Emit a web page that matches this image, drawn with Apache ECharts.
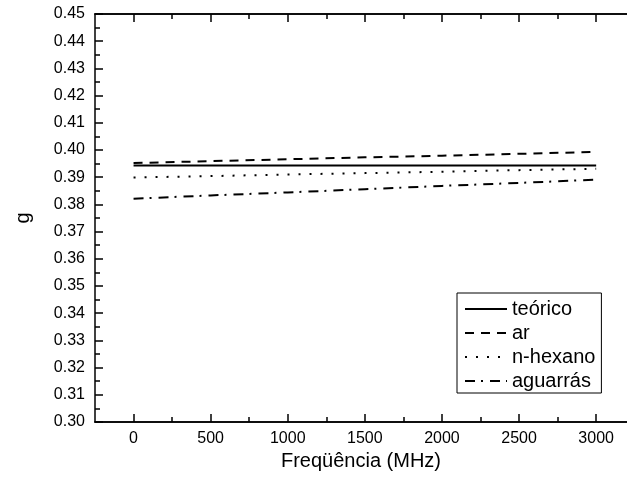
<!DOCTYPE html>
<html>
<head>
<meta charset="utf-8">
<script src="https://cdn.jsdelivr.net/npm/echarts@6/dist/echarts.min.js"></script>
<style>html,body{margin:0;padding:0;background:#fff}#c{width:627px;height:481px}</style>
</head>
<body>
<div id="c"></div>
<script>
var freq = [0, 500, 1000, 1500, 2000, 2500, 3000];
var teorico = [0.3943, 0.3943, 0.3943, 0.3943, 0.3943, 0.3943, 0.3943];
var ar = [0.3952, 0.3959, 0.3966, 0.3973, 0.3979, 0.3986, 0.3993];
var nhexano = [0.3899, 0.3904, 0.3910, 0.3915, 0.3920, 0.3926, 0.3931];
var aguarras = [0.3821, 0.3833, 0.3844, 0.3856, 0.3868, 0.3879, 0.3891];
var seriesNames = ['teórico', 'ar', 'n-hexano', 'aguarrás'];
var xMajor = [0, 500, 1000, 1500, 2000, 2500, 3000];
var xMinor = [250, 750, 1250, 1750, 2250, 2750];

function pairs(vals) { return freq.map(function (f, i) { return [f, vals[i]]; }); }

var FONT = '"Liberation Sans", Arial, sans-serif';
var chart = echarts.init(document.getElementById('c'), null, {renderer: 'canvas'});

function xAxisDef(pos, ticks, len, labels) {
  return {
    type: 'value', position: pos, min: -250, max: 3200,
    axisLine: {show: true, onZero: false, lineStyle: {color: '#000', width: 1.5}},
    axisTick: {show: true, inside: true, length: len, customValues: ticks, lineStyle: {color: '#000', width: 1.5}},
    axisLabel: labels ? {show: true, customValues: xMajor, color: '#000', fontSize: 16, fontFamily: FONT, margin: 9,
      formatter: function (v) { return String(v); }} : {show: false},
    splitLine: {show: false}
  };
}

var xAxes = [xAxisDef('bottom', xMajor, 8, true), xAxisDef('bottom', xMinor, 5, false),
             xAxisDef('top', xMajor, 8, false), xAxisDef('top', xMinor, 5, false)];
xAxes[0].name = 'Freqüência (MHz)';
xAxes[0].nameLocation = 'middle';
xAxes[0].nameGap = 27;
xAxes[0].nameTextStyle = {color: '#000', fontSize: 20, fontFamily: FONT};

function yAxisDef(pos, labels) {
  return {
    type: 'value', position: pos, min: 0.30, max: 0.45, interval: 0.01,
    axisLine: {show: labels, onZero: false, lineStyle: {color: '#000', width: 1.5}},
    axisTick: {show: labels, inside: true, length: 8, lineStyle: {color: '#000', width: 1.5}},
    minorTick: {show: labels, splitNumber: 2, length: 5, lineStyle: {color: '#000', width: 1.5}},
    axisLabel: labels ? {show: true, color: '#000', fontSize: 16, fontFamily: FONT, margin: 10,
      formatter: function (v) { return v.toFixed(2); }} : {show: false},
    splitLine: {show: false}, minorSplitLine: {show: false}
  };
}
var yAxes = [yAxisDef('left', true)];
yAxes[0].name = 'g';
yAxes[0].nameLocation = 'middle';
yAxes[0].nameGap = 62;
yAxes[0].nameTextStyle = {color: '#000', fontSize: 20, fontFamily: FONT};

var styles = [
  {type: 'solid', width: 2},
  {type: [9, 7], width: 2},
  {type: [2, 9], width: 2},
  {type: [10, 6, 2, 7], width: 2}
];
var dataArr = [teorico, ar, nhexano, aguarras];

chart.setOption({
  animation: false,
  backgroundColor: '#fff',
  grid: {left: 95, top: 14, width: 532, height: 408, containLabel: false},
  xAxis: xAxes,
  yAxis: yAxes,
  legend: {
    orient: 'vertical', left: 457, top: 293,
    borderColor: '#000', borderWidth: 1, backgroundColor: '#fff',
    padding: [6, 6, 2, 7], itemGap: 4, itemWidth: 42, itemHeight: 20,
    itemStyle: {opacity: 0},
    textStyle: {color: '#000', fontSize: 20, fontFamily: FONT, lineHeight: 20},
    data: seriesNames
  },
  series: seriesNames.map(function (n, i) {
    return {
      name: n, type: 'line', xAxisIndex: 0, yAxisIndex: 0,
      data: pairs(dataArr[i]), showSymbol: false, symbol: 'none',
      lineStyle: {color: '#000', width: styles[i].width, type: styles[i].type},
      itemStyle: {color: '#000'}
    };
  })
});
</script>
</body>
</html>
